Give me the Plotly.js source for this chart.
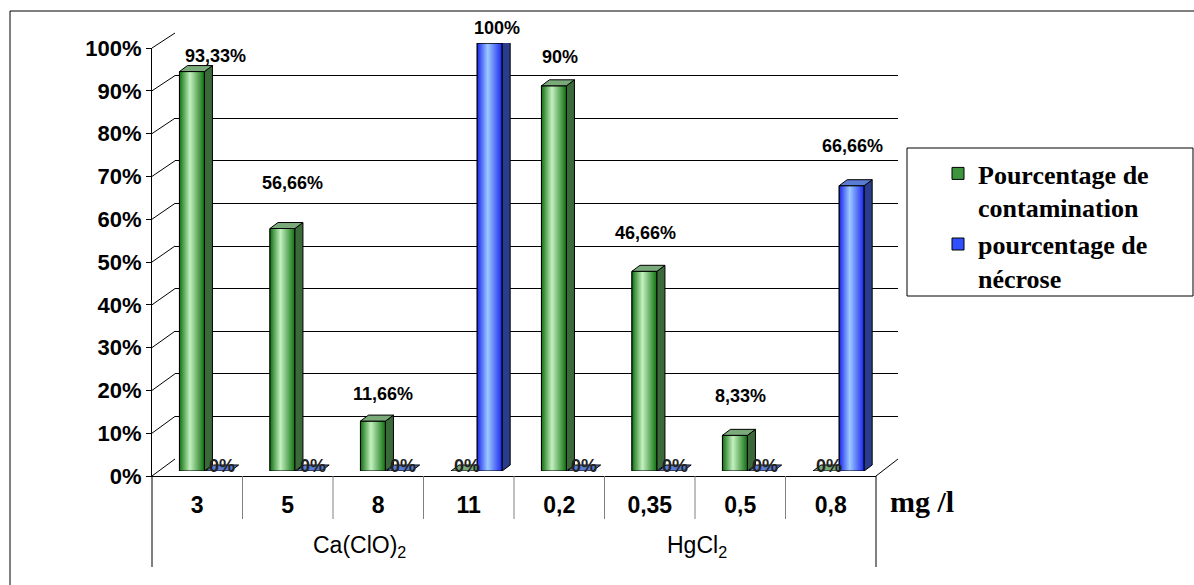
<!DOCTYPE html>
<html><head><meta charset="utf-8">
<script src="https://cdn.plot.ly/plotly-3.0.1.min.js"></script>
<style>html,body{margin:0;padding:0;background:#fff}#chart{width:1194px;height:585px}</style>
</head><body><div id="chart"></div>
<script>
// ---------- data ----------
const categories = ['3', '5', '8', '11', '0,2', '0,35', '0,5', '0,8'];
const groupLabels = ['Ca(ClO)<sub>2</sub>', 'HgCl<sub>2</sub>'];
const contamination = [93.33, 56.66, 11.66, 0, 90, 46.66, 8.33, 0];
const necrose = [0, 0, 0, 100, 0, 0, 0, 66.66];
const seriesNames = ['Pourcentage de<br>contamination', 'pourcentage de<br>nécrose'];
const yTicks = [0, 10, 20, 30, 40, 50, 60, 70, 80, 90, 100];
const unitLabel = 'mg /l';

// ---------- geometry (pixels) ----------
const W = 1194, H = 585;
const px = x => x / W, py = y => 1 - y / H;
const FRONT = {x0: 152, x1: 876, y0: 476, y1: 48};
const BACK  = {x0: 175, x1: 898, y0: 459, y1: 33};
const BARS  = {x0: 160, x1: 884, y0: 471, y1: 43};
const catW = (FRONT.x1 - FRONT.x0) / categories.length;
const unitPx = (BARS.y0 - BARS.y1) / 100;
const DX = 8 / catW, DY = 6 / unitPx;   // depth of bars in data units
const BW = 0.276;

const sans = 'Liberation Sans, Arial, sans-serif';
const serif = 'Liberation Serif, Times New Roman, serif';
const idx = categories.map((c, i) => i);

const series = [
  {vals: contamination, off: -0.285, front: '#3e953e', edge: '#0f700f', mid: '#c4f1c0', side: '#3a6a3a', top: '#7aaa7a'},
  {vals: necrose, off: 0.005, front: '#3050ff', edge: '#1a26ee', mid: '#9ccaff', side: '#2a3c8c', top: '#5a7bd2'}
];

const traces = [];
series.forEach((s, k) => {
  traces.push({
    type: 'bar', x: idx, y: s.vals, name: seriesNames[k], xaxis: 'x2', yaxis: 'y2',
    width: BW, offset: s.off,
    marker: {color: s.front, line: {color: '#000', width: 1}},
    hoverinfo: 'skip'
  });
});
series.forEach((s, k) => {
  const sx = [], sy = [], tx = [], ty = [];
  s.vals.forEach((v, i) => {
    const xl = i + s.off, xr = xl + BW;
    if (v > 0) {
      // gradient front face
      traces.push({
        type: 'scatter', mode: 'lines', xaxis: 'x2', yaxis: 'y2', showlegend: false, hoverinfo: 'skip',
        x: [xl, xr, xr, xl, xl], y: [0, 0, v, v, 0], fill: 'toself',
        line: {color: '#000', width: 1},
        fillgradient: {type: 'horizontal', start: xl, stop: xr,
          colorscale: [[0, s.edge], [0.42, s.mid], [1, s.edge]]}
      });
      sx.push(xr, xr + DX, xr + DX, xr, xr, null);
      sy.push(0, DY, v + DY, v, 0, null);
    }
    tx.push(xl, xr, xr + DX, xl + DX, xl, null);
    ty.push(v, v, v + DY, v + DY, v, null);
  });
  traces.push({type: 'scatter', mode: 'lines', xaxis: 'x2', yaxis: 'y2', showlegend: false, hoverinfo: 'skip',
    x: sx, y: sy, fill: 'toself', fillcolor: s.side, line: {color: '#000', width: 1}});
  traces.push({type: 'scatter', mode: 'lines', xaxis: 'x2', yaxis: 'y2', showlegend: false, hoverinfo: 'skip',
    x: tx, y: ty, fill: 'toself', fillcolor: s.top, line: {color: '#000', width: 1}});
});

// ---------- data labels ----------
const fmt = v => (Number.isInteger(v) ? String(v) : v.toFixed(2).replace('.', ',')) + '%';
const labelShift = [
  [[24, 16], [10, 45], [10, 27], [0, 5], [6, 29], [1, 38], [6, 39], [0, 5]],
  [[0, 5], [0, 5], [0, 5], [7, 15], [0, 5], [0, 5], [0, 5], [1, 40]]
];
const annotations = [];
series.forEach((s, k) => {
  s.vals.forEach((v, i) => {
    const c = i + s.off + BW / 2 + (v === 0 ? DX / 2 : 0);
    annotations.push({
      xref: 'x2', yref: 'y2', x: c, y: v, text: fmt(v), showarrow: false,
      xanchor: 'center', yanchor: 'middle',
      xshift: labelShift[k][i][0], yshift: labelShift[k][i][1],
      font: {family: sans, size: 18, weight: 'bold', color: v === 0 ? '#222' : '#000'}
    });
  });
});
// group labels
annotations.push({xref: 'paper', yref: 'paper', x: px(359), y: py(546), text: groupLabels[0], showarrow: false,
  xanchor: 'center', yanchor: 'middle', font: {family: sans, size: 23, color: '#000'}});
annotations.push({xref: 'paper', yref: 'paper', x: px(697), y: py(546), text: groupLabels[1], showarrow: false,
  xanchor: 'center', yanchor: 'middle', font: {family: sans, size: 23, color: '#000'}});
annotations.push({xref: 'paper', yref: 'paper', x: px(888), y: py(501), text: unitLabel, showarrow: false,
  xanchor: 'left', yanchor: 'middle', font: {family: serif, size: 30, weight: 'bold', color: '#000'}});

// ---------- decoration shapes ----------
const shapes = [];
const line = (x0, y0, x1, y1, color) => shapes.push({type: 'line', xref: 'paper', yref: 'paper',
  x0: px(x0), y0: py(y0), x1: px(x1), y1: py(y1), line: {color: color || '#000', width: 1}});
// outer frame
shapes.push({type: 'rect', xref: 'paper', yref: 'paper', x0: px(10), y0: -0.1, x1: 1.05, y1: py(11),
  line: {color: '#000', width: 1}});
// legend frame
shapes.push({type: 'rect', xref: 'paper', yref: 'paper', x0: px(907), y0: py(296), x1: px(1193), y1: py(148),
  line: {color: '#000', width: 1}});
// diagonal connectors front axis -> back wall
yTicks.forEach(t => {
  const yf = FRONT.y0 - t * (FRONT.y0 - FRONT.y1) / 100;
  const yb = BACK.y0 - t * (BACK.y0 - BACK.y1) / 100;
  line(FRONT.x0, yf, BACK.x0, yb);
});
line(FRONT.x1, FRONT.y0, BACK.x1, BACK.y0);
// category table
for (let i = 1; i < categories.length; i++) {
  const x = FRONT.x0 + i * catW;
  line(x, FRONT.y0, x, 519, '#808080');
}
line(FRONT.x0, FRONT.y0, FRONT.x0, 567);
line(FRONT.x1, FRONT.y0, FRONT.x1, 567);

const hidden = {visible: false, fixedrange: true};
const layout = {
  width: W, height: H, margin: {l: 0, r: 0, t: 0, b: 0},
  paper_bgcolor: '#fff', plot_bgcolor: 'rgba(0,0,0,0)',
  showlegend: true, barmode: 'overlay',
  // back wall with gridlines
  xaxis: Object.assign({domain: [px(BACK.x0), px(BACK.x1)], range: [0, 1]}, hidden),
  yaxis: {domain: [py(BACK.y0), py(BACK.y1)], range: [0, 100], tickvals: yTicks, showgrid: true,
    gridcolor: '#000', gridwidth: 1, showticklabels: false, ticks: '', zeroline: false, showline: false, fixedrange: true},
  // bars plane
  xaxis2: Object.assign({domain: [px(BARS.x0), px(BARS.x1)], range: [-0.5, categories.length - 0.5], anchor: 'y2'}, hidden),
  yaxis2: Object.assign({domain: [py(BARS.y0), py(BARS.y1)], range: [0, 100], anchor: 'x2'}, hidden),
  // front plane: axes and labels
  xaxis3: {domain: [px(FRONT.x0), px(FRONT.x1)], range: [-0.5, categories.length - 0.5], anchor: 'y3',
    tickvals: idx, ticktext: categories, ticks: '', showgrid: false, zeroline: false,
    showline: true, linecolor: '#000', linewidth: 1, ticklabelstandoff: 8,
    tickfont: {family: sans, size: 23, weight: 'bold', color: '#000'}, fixedrange: true},
  yaxis3: {domain: [py(FRONT.y0), py(FRONT.y1)], range: [0, 100], anchor: 'x3',
    tickvals: yTicks, ticktext: yTicks.map(t => t + '%'), ticks: 'outside', ticklen: 5, tickcolor: '#000',
    showgrid: false, zeroline: false, showline: true, linecolor: '#000', linewidth: 1,
    tickfont: {family: sans, size: 22, weight: 'bold', color: '#000'}, fixedrange: true},
  legend: {x: px(938), y: py(150), xanchor: 'left', yanchor: 'top', bgcolor: 'rgba(0,0,0,0)',
    borderwidth: 0, valign: 'top',
    font: {family: serif, size: 26, weight: 'bold', color: '#000'}},
  annotations: annotations,
  shapes: shapes
};
// empty traces so the back wall and front axes are drawn
traces.unshift({type: 'scatter', x: [], y: [], xaxis: 'x3', yaxis: 'y3', showlegend: false, hoverinfo: 'skip'});
traces.unshift({type: 'scatter', x: [], y: [], xaxis: 'x', yaxis: 'y', showlegend: false, hoverinfo: 'skip'});

Plotly.newPlot('chart', traces, layout, {displayModeBar: false, staticPlot: true});
</script>
</body></html>
